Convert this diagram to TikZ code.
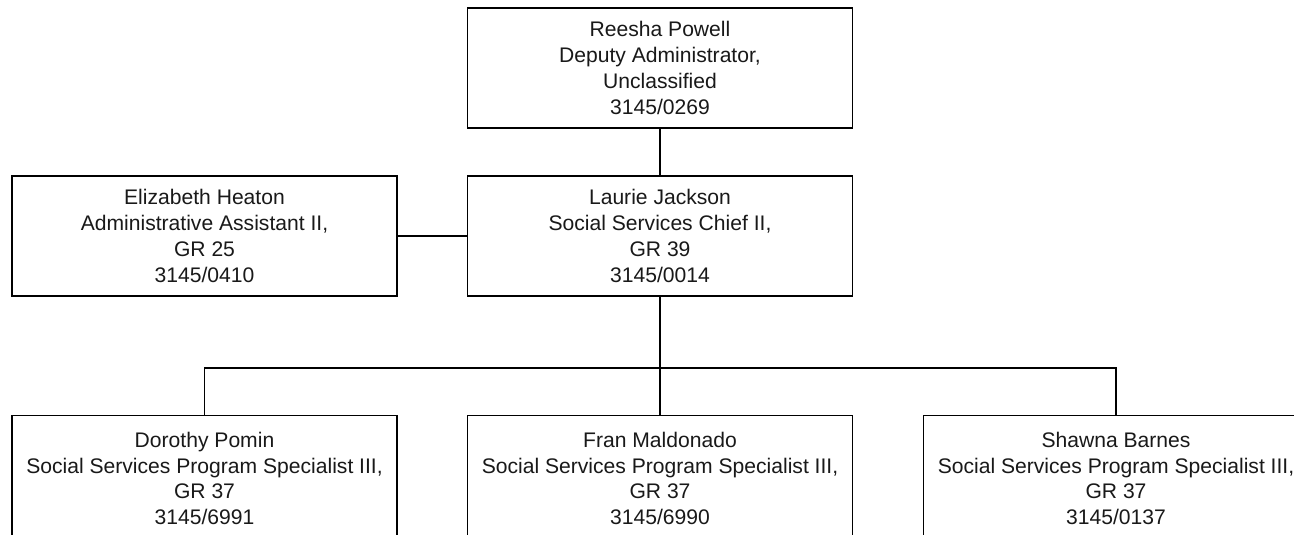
\documentclass[tikz,border=0pt]{standalone}
\usepackage{fontspec}
\setmainfont{Liberation Sans}
\begin{document}
\begin{tikzpicture}[x=1pt,y=-1pt,
  person/.style={draw=black, line width=1.5pt, fill=white, minimum width=385pt, minimum height=120pt,
    inner sep=0pt, align=center, font=\fontsize{21.1}{25.8}\selectfont, text=black!90},
  cut/.style={minimum height=126pt},
  link/.style={draw=black, line width=1.3pt}]
\useasboundingbox (0,0) rectangle (1294,535);
\coordinate (bus) at (660,368);
\node[person] (reesha) at (660,68) {Reesha Powell\\Deputy Administrator,\\Unclassified\\3145/0269};
\node[person] (laurie) at (660,236) {Laurie Jackson\\Social Services Chief II,\\GR 39\\3145/0014};
\node[person] (eliz) at (204.5,236) {Elizabeth Heaton\\Administrative Assistant II,\\GR 25\\3145/0410};
\node[person, cut] (dorothy) at (204.5,478.5) {Dorothy Pomin\\Social Services Program Specialist III,\\GR 37\\3145/6991};
\node[person, cut] (fran) at (660,478.5) {Fran Maldonado\\Social Services Program Specialist III,\\GR 37\\3145/6990};
\node[person, cut] (shawna) at (1116,478.5) {Shawna Barnes\\Social Services Program Specialist III,\\GR 37\\3145/0137};
\draw[link] (reesha.south) -- (laurie.north);
\draw[link] (eliz.east) -- (laurie.west);
\draw[link] (laurie.south) -- (bus);
\draw[link] (dorothy.north) |- (bus) -| (shawna.north);
\draw[link] (bus) -- (fran.north);
\end{tikzpicture}
\end{document}
